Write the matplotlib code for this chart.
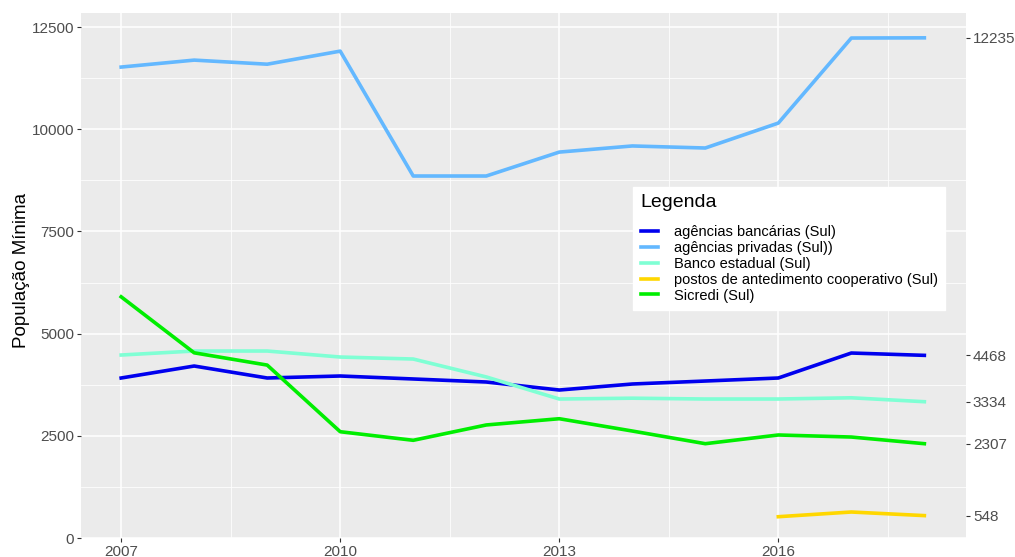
import numpy as np
import matplotlib.pyplot as plt

plt.rcParams['font.family'] = ['Liberation Sans', 'DejaVu Sans']

anos = list(range(2007, 2019))
ag_bancarias = [3914, 4207, 3914, 3963, 3890, 3816, 3620, 3767, 3840, 3914, 4525, 4468]
ag_privadas = [11520, 11690, 11590, 11910, 8855, 8855, 9440, 9590, 9540, 10150, 12230, 12235]
banco_estadual = [4476, 4574, 4574, 4427, 4378, 3940, 3400, 3420, 3400, 3400, 3430, 3334]
anos_postos = [2016, 2017, 2018]
postos = [521, 636, 548]
sicredi = [5900, 4530, 4230, 2600, 2390, 2765, 2918, 2617, 2307, 2520, 2470, 2307]

fig = plt.figure(figsize=(10.15, 5.57), dpi=100)
ax = fig.add_axes([0.0798, 0.0341, 0.8719, 0.9426])
ax.set_facecolor('#EBEBEB')
for s in ax.spines.values():
    s.set_visible(False)

lw = 2.6
ax.plot(anos, ag_bancarias, color='#0000EE', lw=lw, label='agências bancárias (Sul)')
ax.plot(anos, ag_privadas, color='#63B8FF', lw=lw, label='agências privadas (Sul))')
ax.plot(anos, banco_estadual, color='#7FFFD4', lw=lw, label='Banco estadual (Sul)')
ax.plot(anos_postos, postos, color='#FFD700', lw=lw, label='postos de antedimento cooperativo (Sul)')
ax.plot(anos, sicredi, color='#00EE00', lw=lw, label='Sicredi (Sul)')

ax.set_xlim(2006.45, 2018.57)
ax.set_ylim(0, 12843)
ax.set_xticks([2007, 2010, 2013, 2016])
ax.set_xticks([2008.5, 2011.5, 2014.5, 2017.5], minor=True)
ax.set_yticks([0, 2500, 5000, 7500, 10000, 12500])
ax.set_yticks([1250, 3750, 6250, 8750, 11250], minor=True)
ax.grid(which='major', color='white', lw=1.1)
ax.grid(which='minor', color='white', lw=0.55)
ax.set_axisbelow(True)
ax.tick_params(which='major', length=3, color='#333333', labelsize=11, labelcolor='#4D4D4D', pad=2)
ax.tick_params(which='minor', length=0)
fig.text(0.0207, 0.515, 'População Mínima', fontsize=13.5, rotation=90, ha='center', va='center')

ax2 = ax.twinx()
ax2.set_ylim(ax.get_ylim())
for s in ax2.spines.values():
    s.set_visible(False)
ultimos = [ag_privadas[-1], ag_bancarias[-1], banco_estadual[-1], sicredi[-1], postos[-1]]
ax2.set_yticks(ultimos)
ax2.set_yticklabels([str(v) for v in ultimos])
ax2.tick_params(length=3, color='#333333', labelsize=11, labelcolor='#4D4D4D', pad=2)

handles, labels = ax.get_legend_handles_labels()
leg = ax2.legend(handles, labels, title='Legenda', loc='upper left', bbox_to_anchor=(0.624, 0.669),
                 fontsize=10.5, title_fontsize=14, frameon=True, fancybox=False,
                 handlelength=1.2, handletextpad=1.1, labelspacing=0.13,
                 borderpad=0.5, borderaxespad=0)
leg.get_frame().set_facecolor('white')
leg.get_frame().set_edgecolor('white')
leg.get_frame().set_alpha(1)
leg._legend_box.align = 'left'
leg._legend_box.sep = 10

fig.savefig('out.png', dpi=100)
